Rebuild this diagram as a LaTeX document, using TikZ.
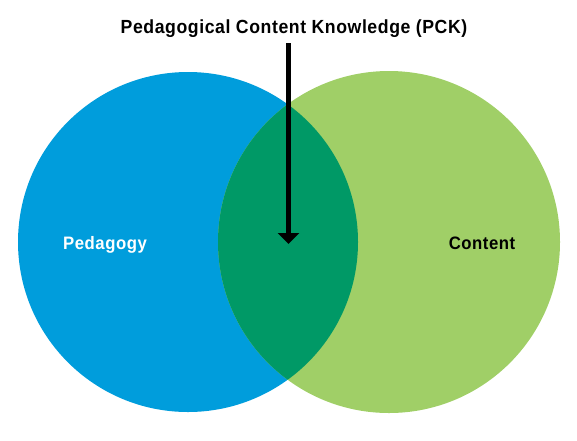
\documentclass[tikz,border=0pt]{standalone}
\usepackage{fontspec}
\setmainfont[FakeStretch=0.93, LetterSpace=3]{Liberation Sans}
\usetikzlibrary{arrows.meta}
\definecolor{pedblue}{RGB}{0,157,220}
\definecolor{contgreen}{RGB}{160,207,103}
\definecolor{pckgreen}{RGB}{0,153,102}
\begin{document}
\begin{tikzpicture}[x=1pt,y=-1pt,
  lbl/.style={font=\bfseries\fontsize{18}{20}\selectfont, inner sep=0pt, anchor=base},
  ttl/.style={font=\bfseries\fontsize{19}{21}\selectfont, inner sep=0pt, anchor=base},
  venn/.style={circle, inner sep=0pt, draw=none}]
\useasboundingbox (0,0) rectangle (577,440);
% the two sets
\node[venn, fill=pedblue, minimum size=340pt] (ped) at (188,242) {};
\node[venn, fill=contgreen, minimum size=342pt] (cont) at (389,242) {};
% their intersection
\begin{scope}
  \clip (188,242) circle (170);
  \fill[pckgreen] (389,242) circle (171);
\end{scope}
% labels
\node[lbl, text=white] (pedl) at (105,249.5) {Pedagogy};
\node[lbl] (contl) at (482,249.5) {Content};
\node[ttl] (pck) at (294,33) {Pedagogical Content Knowledge (PCK)};
\coordinate (tip) at (288.5,244);
\coordinate (tail) at (288.5,43);
\draw[line width=4.5pt, -{Triangle[width=21pt,length=11pt]}] (tail) -- (tip);
\end{tikzpicture}
\end{document}
